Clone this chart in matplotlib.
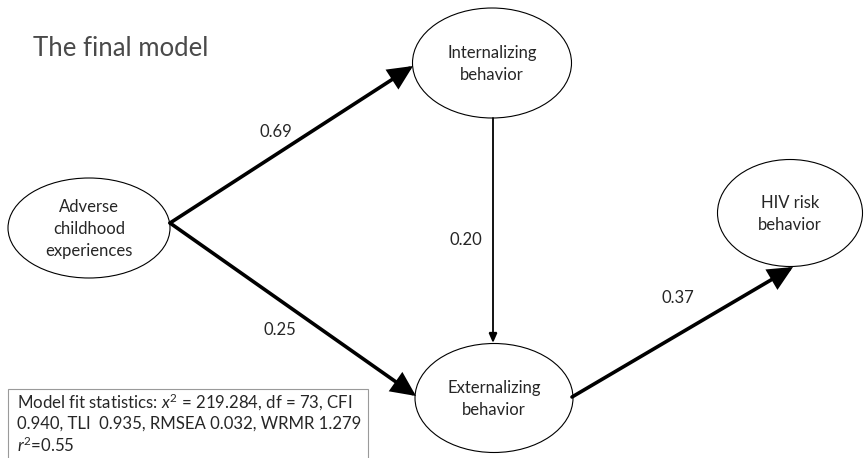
import matplotlib
matplotlib.use("Agg")
import matplotlib.pyplot as plt
from matplotlib.patches import Ellipse, FancyArrowPatch, Rectangle

# ---- data ----
node_names = ["Adverse\nchildhood\nexperiences", "Internalizing\nbehavior",
              "Externalizing\nbehavior", "HIV risk\nbehavior"]
path_from = [0, 0, 1, 2]
path_to = [1, 2, 2, 3]
path_coef = ["0.69", "0.25", "0.20", "0.37"]
title_text = "The final model"
fit_lines = [r"Model fit statistics: $\mathit{x}^{2}$ = 219.284, df = 73, CFI",
             "0.940, TLI  0.935, RMSEA 0.032, WRMR 1.279",
             r"$\mathit{r}^{2}$=0.55"]

# ---- layout (pixel coordinates) ----
node_center = [(89, 228), (492, 63), (494, 398), (790, 213)]
node_size = [(162, 100), (159, 110), (158, 109), (145, 107)]
path_start = [(170, 223), (170, 223), (493, 118), (572, 397)]
path_end = [(413, 66), (416, 396), (493, 343), (793, 267)]
label_pos = [(276, 132), (280, 330), (466, 240), (678, 298)]
path_lw = [2.6, 2.6, 1.3, 2.6]
head = [(19, 9), (19, 9), (8, 3.5), (19, 9)]

plt.rcParams['font.family'] = ['Lato', 'DejaVu Sans']
plt.rcParams['mathtext.fontset'] = 'custom'
plt.rcParams['mathtext.rm'] = 'Lato'
plt.rcParams['mathtext.it'] = 'Lato:italic'

fig = plt.figure(figsize=(8.64, 4.58), dpi=100)
ax = fig.add_axes([0, 0, 1, 1])
ax.set_xlim(0, 864)
ax.set_ylim(458, 0)
ax.axis('off')

txt_color = '#262626'

ax.text(33, 48, title_text, fontsize=18.5, color='#4a4a4a', ha='left', va='center',
        fontweight='normal')

for name, (cx, cy), (w, h) in zip(node_names, node_center, node_size):
    ax.add_patch(Ellipse((cx, cy), w, h, facecolor='white', edgecolor='black', lw=0.8, zorder=2))
    ax.text(cx, cy + 1, name, ha='center', va='center', fontsize=12, color=txt_color,
            linespacing=1.45, zorder=3)

for i in range(len(path_coef)):
    hl, hw = head[i]
    arr = FancyArrowPatch(path_start[i], path_end[i],
                          arrowstyle=f'-|>,head_length={hl/1.389:.2f},head_width={hw/1.389:.2f}',
                          mutation_scale=1, lw=path_lw[i], color='black',
                          shrinkA=0, shrinkB=0, zorder=4, joinstyle='miter')
    ax.add_patch(arr)
    ax.text(label_pos[i][0], label_pos[i][1], path_coef[i], ha='center', va='center',
            fontsize=12, color=txt_color)

ax.add_patch(Rectangle((8, 389), 360, 80, facecolor='white', edgecolor='#9a9a9a', lw=0.8, zorder=5))
for j, line in enumerate(fit_lines):
    ax.text(17, 402 + j * 21.5, line, ha='left', va='center', fontsize=12.1,
            color=txt_color, zorder=6)

fig.savefig('out.png', dpi=100)
